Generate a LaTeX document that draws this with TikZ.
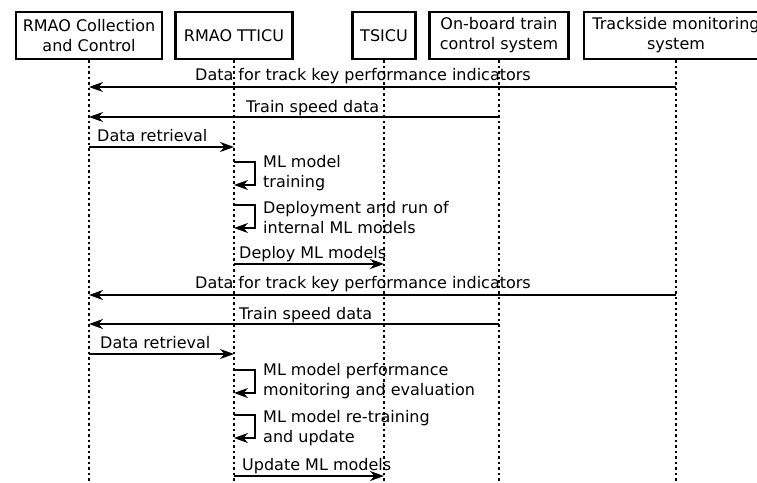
\documentclass[tikz,border=0pt]{standalone}
\usepackage{fontspec}
\setmainfont{DejaVu Sans}
\usetikzlibrary{arrows.meta}

\tikzset{
  actor/.style={draw, line width=2.6pt, minimum height=47pt, inner sep=0pt,
    align=center, fill=white},
  lifeline/.style={line width=1.7pt, dash pattern=on 2.5pt off 3pt},
  msg/.style={line width=1.7pt, -{Stealth[length=14pt,width=10pt,inset=4.5pt]}},
  lbl/.style={anchor=base west, inner sep=0pt, align=left},
}

\begin{document}
\begin{tikzpicture}[x=1pt, y=-1pt, font=\fontsize{16}{20}\selectfont]
\clip (0,0) rectangle (757,482);
\fill[white] (0,0) rectangle (757,482);

% participants
\node[actor, minimum width=146pt] (rc)  at (89,35.5)  {RMAO Collection\\and Control};
\node[actor, minimum width=117pt] (tt)  at (234,35.5) {RMAO TTICU};
\node[actor, minimum width=63pt]  (ts)  at (384,35.5) {TSICU};
\node[actor, minimum width=139pt] (ob)  at (499,35.5) {On-board train\\control system};
\node[actor, minimum width=184pt] (tm)  at (676,35.5) {Trackside monitoring\\system};

% lifelines
\foreach \p in {rc,tt,ts,ob,tm}
  \draw[lifeline] (\p.south) -- (\p.south |- 0,490);

% first cycle
\draw[msg] (tm.south |- 0,87) -- (rc.south |- 0,87);
\node[lbl] (m1) at (195,80) {Data for track key performance indicators};
\draw[msg] (ob.south |- 0,117) -- (rc.south |- 0,117);
\node[lbl] (m2) at (246,112) {Train speed data};
\draw[msg] (rc.south |- 0,147) -- (tt.south |- 0,147);
\node[lbl] (m3) at (97,141) {Data retrieval};
\draw[msg] (tt.south |- 0,162) -| ++(21,23) -- (tt.south |- 0,185);
\node[lbl] (m4) at (263,187) {ML model\\training};
\draw[msg] (tt.south |- 0,205) -| ++(21,23) -- (tt.south |- 0,228);
\node[lbl] (m5) at (263,233) {Deployment and run of\\internal ML models};
\draw[msg] (tt.south |- 0,264) -- (ts.south |- 0,264);
\node[lbl] (m6) at (239,258) {Deploy ML models};

% second cycle
\draw[msg] (tm.south |- 0,295) -- (rc.south |- 0,295);
\node[lbl] (m7) at (195,288) {Data for track key performance indicators};
\draw[msg] (ob.south |- 0,324) -- (rc.south |- 0,324);
\node[lbl] (m8) at (239,319) {Train speed data};
\draw[msg] (rc.south |- 0,354) -- (tt.south |- 0,354);
\node[lbl] (m9) at (100,348) {Data retrieval};
\draw[msg] (tt.south |- 0,370) -| ++(21,23) -- (tt.south |- 0,393);
\node[lbl] (m10) at (263,395) {ML model performance\\monitoring and evaluation};
\draw[msg] (tt.south |- 0,415) -| ++(21,23) -- (tt.south |- 0,438);
\node[lbl] (m11) at (263,442) {ML model re-training\\and update};
\draw[msg] (tt.south |- 0,476) -- (ts.south |- 0,476);
\node[lbl] (m12) at (242,470) {Update ML models};
\end{tikzpicture}
\end{document}
